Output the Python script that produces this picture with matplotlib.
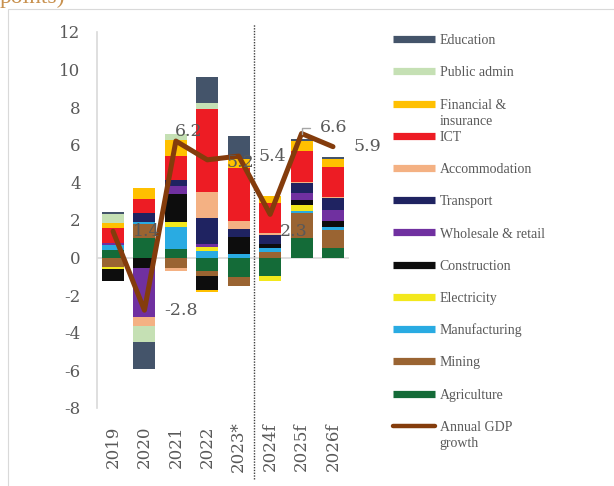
import matplotlib.pyplot as plt
import numpy as np
from matplotlib.lines import Line2D
from matplotlib.patches import Rectangle

plt.rcParams['font.family'] = ['Liberation Serif', 'DejaVu Serif']

# Categories and values (percentage points)
YEARS = ["2019", "2020", "2021", "2022", "2023*", "2024f", "2025f", "2026f"]

AGRICULTURE = [0.4, 1.05, 0.45, -0.7, -1.05, -1.0, 1.05, 0.5]
MINING = [-0.5, 0.75, -0.55, -0.3, -0.45, 0.3, 1.3, 0.95]
MANUFACTURING = [0.25, 0.1, 1.2, 0.35, 0.2, 0.2, 0.15, 0.2]
ELECTRICITY = [-0.12, 0.0, 0.23, 0.2, 0.0, -0.25, 0.3, 0.0]
CONSTRUCTION = [-0.6, -0.55, 1.5, -0.75, 0.9, 0.2, 0.28, 0.3]
WHOLESALE = [0.1, -2.6, 0.45, 0.15, 0.0, 0.0, 0.33, 0.58]
TRANSPORT = [-0.05, 0.45, 0.32, 1.4, 0.4, 0.5, 0.55, 0.62]
ACCOMMODATION = [0.0, -0.48, -0.18, 1.4, 0.45, 0.1, 0.08, 0.07]
ICT = [0.8, 0.78, 1.28, 4.4, 2.8, 1.6, 1.65, 1.6]
FINANCIAL = [0.3, 0.55, 0.85, -0.1, 0.5, 0.35, 0.5, 0.45]
PUBLIC_ADMIN = [0.45, -0.85, 0.27, 0.3, 0.0, 0.0, 0.0, 0.0]
EDUCATION = [0.1, -1.45, 0.0, 1.4, 1.2, 0.05, 0.1, 0.1]

GDP_GROWTH = [1.4, -2.8, 6.2, 5.2, 5.4, 2.3, 6.6, 5.9]

# stacking order, bottom to top
SECTORS = [
    ("Agriculture", AGRICULTURE, "#146b38"),
    ("Mining", MINING, "#9a6432"),
    ("Manufacturing", MANUFACTURING, "#29abe2"),
    ("Electricity", ELECTRICITY, "#f3e81c"),
    ("Construction", CONSTRUCTION, "#0d0d0d"),
    ("Wholesale & retail", WHOLESALE, "#7030a0"),
    ("Transport", TRANSPORT, "#1f2361"),
    ("Accommodation", ACCOMMODATION, "#f4b183"),
    ("ICT", ICT, "#ed1c24"),
    ("Financial &\ninsurance", FINANCIAL, "#ffc000"),
    ("Public admin", PUBLIC_ADMIN, "#c5e0b4"),
    ("Education", EDUCATION, "#44546a"),
]
GDP_COLOR = "#843c0c"
TEXT_COLOR = "#595959"
NUM_FONT = ["DejaVu Serif"]

W, H = 614, 486
fig = plt.figure(figsize=(W / 100, H / 100), dpi=100)

# chart frame and the cut-off title line from the source document
fig.patches.append(Rectangle((8 / W, -0.1), 1.0, 1 - 9 / H + 0.1, transform=fig.transFigure,
                             facecolor="none", edgecolor="#d9d9d9", lw=0.8))
fig.text(0.0, 1 - 3 / H, "points)", color="#c8914f", fontsize=17, va="baseline", ha="left")

ax = fig.add_axes([97.3 / W, 1 - 408 / H, (348.7 - 97.3) / W, 376 / H])
x = np.arange(len(YEARS))

pos_base = np.zeros(len(YEARS))
neg_base = np.zeros(len(YEARS))
for name, vals, color in SECTORS:
    v = np.array(vals)
    pos = np.where(v > 0, v, 0)
    neg = np.where(v < 0, v, 0)
    ax.bar(x, pos, 0.7, bottom=pos_base, color=color, lw=0, zorder=2)
    ax.bar(x, neg, 0.7, bottom=neg_base, color=color, lw=0, zorder=2)
    pos_base += pos
    neg_base += neg

ax.plot(x, GDP_GROWTH, color=GDP_COLOR, lw=3.6, solid_joinstyle="round",
        solid_capstyle="round", zorder=4)

# data label offsets (points) from each GDP point
offsets = [(14, 0), (14, 0), (-1, 7), (14, -2), (14, 0), (7, -12), (13, 4), (15, 0)]
for i, (val, (dx, dy)) in enumerate(zip(GDP_GROWTH, offsets)):
    arrow = None
    if i == 6:
        arrow = dict(arrowstyle="-", color="#a6a6a6", lw=1,
                     connectionstyle="angle,angleA=0,angleB=90,rad=0",
                     relpos=(0, 0.5), shrinkA=5, shrinkB=0)
    ax.annotate(f"{val:.1f}", xy=(x[i], val), xytext=(dx, dy), textcoords="offset points",
                ha="left", va="center", fontsize=12.5, family=NUM_FONT, color=TEXT_COLOR,
                zorder=5, arrowprops=arrow)

ax.axhline(0, color="#d9d9d9", lw=1.2, zorder=1)
ax.axvline(4.5, ymin=-0.19, ymax=1.02, clip_on=False, color="#404040", ls=(0, (1, 1)), lw=1)

ax.set_xlim(-0.5, len(YEARS) - 0.5)
ax.set_ylim(-8, 12)
ax.set_yticks(np.arange(-8, 13, 2))
ax.set_yticklabels([str(t) for t in range(-8, 13, 2)], fontsize=12, family=NUM_FONT,
                   color=TEXT_COLOR)
ax.set_xticks(x)
ax.set_xticklabels(YEARS, rotation=90, va="center", ha="center", fontsize=12,
                   family=NUM_FONT, color=TEXT_COLOR)
ax.tick_params(axis="y", length=0, pad=12)
ax.tick_params(axis="x", length=0, pad=28)
for side in ["top", "right", "bottom"]:
    ax.spines[side].set_visible(False)
ax.spines["left"].set_color("#d9d9d9")
ax.spines["left"].set_linewidth(1.2)
ax.set_facecolor("none")

# legend drawn by hand to match the fixed row pitch of the original
legend_items = [(n, c) for n, _, c in reversed(SECTORS)] + [("Annual GDP\ngrowth", GDP_COLOR)]
for i, (name, color) in enumerate(legend_items):
    y = 1 - (39.3 + 32.2 * i) / H
    if color == GDP_COLOR:
        fig.add_artist(Line2D([393 / W, 435 / W], [y, y], transform=fig.transFigure,
                              color=color, lw=3.2, solid_capstyle="round"))
    else:
        fig.add_artist(Line2D([393 / W, 435 / W], [y, y], transform=fig.transFigure,
                              color=color, lw=5.2, solid_capstyle="butt"))
    for j, line in enumerate(name.split("\n")):
        fig.text(439.5 / W, y - j * 16 / H, line, fontsize=10, color=TEXT_COLOR,
                 ha="left", va="center_baseline")

fig.savefig("out.png", dpi=100)
